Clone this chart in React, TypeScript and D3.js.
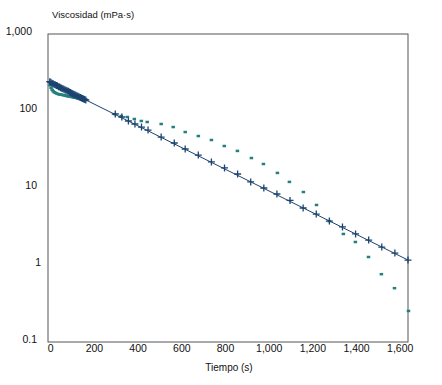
import React, { useEffect, useRef } from 'react';
import * as d3 from 'd3';

// Tiempo (s) / viscosidad (mPa·s)
const denseTime = [0, 5, 10, 15, 20, 25, 30, 35, 40, 45, 50, 55, 60, 65, 70, 75, 80, 85, 90, 95, 100, 105, 110, 115, 120, 125, 130, 135, 140, 145, 150, 155, 160, 165];
const denseMeasured = [240, 236, 230, 228, 221, 219, 214, 212, 207, 205, 200, 198, 194, 192, 188, 186, 182, 180, 176, 174, 170, 168, 165, 163, 160, 157, 155, 152, 150, 148, 145, 143, 141, 139];
const denseOther = [216, 200, 188, 180, 175, 172, 169, 167, 165, 164, 163, 162, 161, 160, 158, 157, 156, 155, 154, 153, 152, 151, 150, 149, 148, 147, 146, 145, 144, 143, 142, 141, 140, 139];

const plusTime = [300, 330, 360, 390, 420, 450, 510, 570, 620, 680, 740, 800, 860, 920, 980, 1040, 1100, 1160, 1220, 1280, 1340, 1400, 1460, 1520, 1580, 1640];
const plusValue = [91.4, 83.6, 74.2, 67.8, 61.9, 56.6, 45.9, 38.4, 32.1, 26.8, 21.8, 18.2, 15.2, 12.0, 10.0, 8.36, 6.9, 5.5, 4.59, 3.72, 3.12, 2.53, 2.11, 1.71, 1.43, 1.16];

const squareTime = [296, 326, 354, 386, 418, 445, 509, 564, 619, 679, 739, 798, 858, 922, 977, 1041, 1096, 1160, 1220, 1279, 1343, 1398, 1458, 1517, 1577, 1641];
const squareValue = [91, 86.1, 83.6, 78.7, 74.2, 72.0, 67.8, 61.9, 53.3, 47.3, 42.0, 35.1, 30.3, 24.5, 20.5, 15.7, 12.0, 8.87, 6.02, 3.72, 2.53, 1.99, 1.27, 0.76, 0.50, 0.253];

const trendTime = [0, 1640];
const trendValue = [238, 1.16];

const xTicks = [0, 200, 400, 600, 800, 1000, 1200, 1400, 1600];
const yTicks = [0.1, 1, 10, 100, 1000];

const NAVY = '#1b4470';
const TEAL = '#23807f';
const FONT = '"Liberation Sans", Arial, sans-serif';

export default function App() {
  const svgRef = useRef<SVGSVGElement>(null);

  useEffect(() => {
    const width = 442;
    const height = 385;
    const left = 48, right = 408, top = 34, bottom = 342;

    const svg = d3.select(svgRef.current).attr('width', width).attr('height', height);
    svg.selectAll('*').remove();

    const x = d3.scaleLinear().domain([-8, 1640]).range([left, right]);
    const y = d3.scaleLog().domain([0.1, 1000]).range([bottom, top]);

    svg.append('rect')
      .attr('x', left).attr('y', top)
      .attr('width', right - left).attr('height', bottom - top)
      .attr('fill', 'none').attr('stroke', '#555').attr('stroke-width', 1);

    const fmt = d3.format(',');
    const nudge: Record<string, number> = { '1000': -5, '1': 4 };

    svg.append('g').selectAll('text')
      .data(yTicks).enter().append('text')
      .attr('x', d => 37 + (nudge[String(d)] || 0))
      .attr('y', d => y(d) - 3)
      .attr('dy', '0.35em')
      .attr('text-anchor', 'end')
      .style('font-family', FONT).style('font-size', '10.5px').attr('fill', '#111')
      .text(d => (d < 1 ? String(d) : fmt(d)));

    svg.append('g').selectAll('text')
      .data(xTicks).enter().append('text')
      .attr('x', d => x(d) + 1)
      .attr('y', bottom + 10)
      .attr('text-anchor', 'middle')
      .style('font-family', FONT).style('font-size', '10.5px').attr('fill', '#111')
      .text(d => fmt(d));

    svg.append('text')
      .attr('x', 52).attr('y', 18)
      .style('font-family', FONT).style('font-size', '9.5px').attr('fill', '#111')
      .text('Viscosidad (mPa·s)');

    svg.append('text')
      .attr('x', 229).attr('y', 371)
      .attr('text-anchor', 'middle')
      .style('font-family', FONT).style('font-size', '10px').attr('fill', '#111')
      .text('Tiempo (s)');

    const teal = denseTime.map((t, i) => ({ t, v: denseOther[i] }))
      .concat(squareTime.map((t, i) => ({ t, v: squareValue[i] })));
    const navy = denseTime.map((t, i) => ({ t, v: denseMeasured[i] }))
      .concat(plusTime.map((t, i) => ({ t, v: plusValue[i] })));

    svg.append('g').selectAll('rect')
      .data(teal).enter().append('rect')
      .attr('x', d => x(d.t) - 1.5).attr('y', d => y(d.v) - 1.25)
      .attr('width', 3.5).attr('height', 2.5)
      .attr('fill', TEAL);

    const line = d3.line<number>()
      .x((_, i) => x(trendTime[i]))
      .y(d => y(d));
    svg.append('path')
      .attr('d', line(trendValue))
      .attr('fill', 'none').attr('stroke', NAVY).attr('stroke-width', 1);

    const s = 3.5;
    svg.append('g').selectAll('path')
      .data(navy).enter().append('path')
      .attr('d', d => {
        const cx = x(d.t), cy = y(d.v);
        return `M${cx - s},${cy}H${cx + s}M${cx},${cy - s}V${cy + s}`;
      })
      .attr('stroke', NAVY).attr('stroke-width', 1.3).attr('fill', 'none');
  }, []);

  return (
    <div style={{ position: 'absolute', left: 0, top: 0 }}>
      <svg ref={svgRef} style={{ display: 'block' }} />
    </div>
  );
}
